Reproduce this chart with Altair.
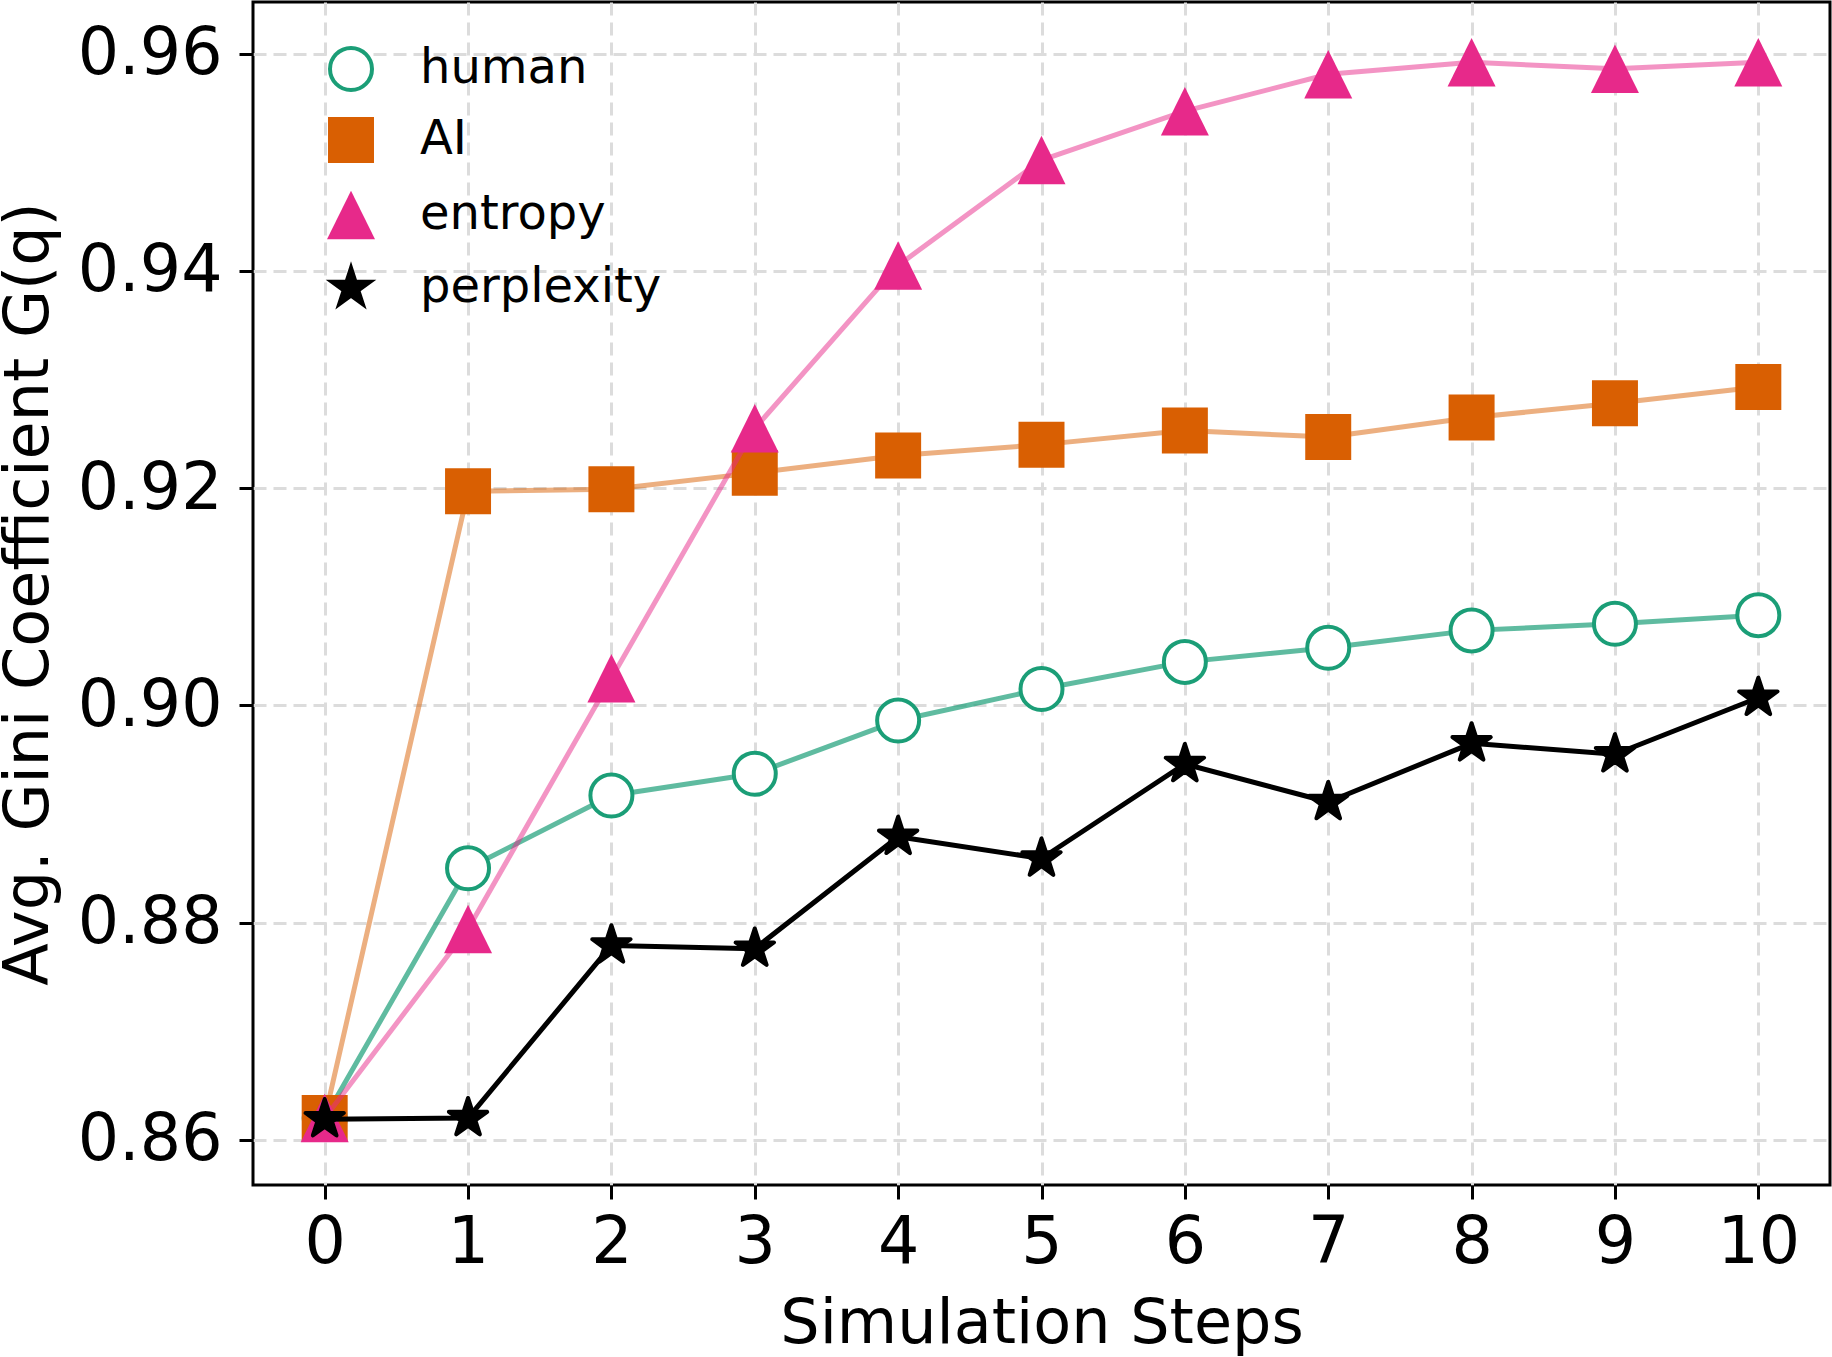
import math

import altair as alt
import pandas as pd

# Simulation steps and the average Gini coefficient per query strategy
steps = list(range(11))
series_names = ["human", "AI", "entropy", "perplexity"]

human = [0.8620, 0.8850, 0.8917, 0.8937, 0.8986, 0.9015, 0.9040, 0.9053, 0.9069, 0.9075, 0.9083]
ai = [0.8620, 0.9197, 0.9199, 0.9214, 0.9230, 0.9240, 0.9253, 0.9247, 0.9265, 0.9278, 0.9293]
entropy = [0.8620, 0.8794, 0.9025, 0.9255, 0.9405, 0.9502, 0.9547, 0.9581, 0.9592, 0.9586, 0.9592]
perplexity = [0.8619, 0.8620, 0.8779, 0.8776, 0.8879, 0.8859, 0.8946, 0.8911, 0.8965, 0.8955, 0.9007]

y_ticks = [0.86, 0.88, 0.90, 0.92, 0.94, 0.96]

series_colors = ["#1b9e77", "#d95f02", "#e7298a", "#000000"]
marker_fills = ["white", "#d95f02", "#e7298a", "#000000"]
marker_strokes = ["#1b9e77", "transparent", "transparent", "#000000"]
line_opacity = [0.7, 0.5, 0.5, 1.0]

FONT = "DejaVu Sans"


def star_path(outer, inner_ratio=0.381966, points=5):
    coords = []
    for k in range(points * 2):
        r = outer if k % 2 == 0 else outer * inner_ratio
        ang = math.pi / 2 + k * math.pi / points
        coords.append((r * math.cos(ang), -r * math.sin(ang)))
    return "M" + "L".join(f"{x:.4f},{y:.4f}" for x, y in coords) + "Z"


# Marker outlines in the unit box; one symbol size is shared by all of them
circle_shape = "M0.875,0A0.875,0.875,0,1,1,-0.875,0A0.875,0.875,0,1,1,0.875,0Z"
square_shape = "M-0.958,-0.958H0.958V0.958H-0.958Z"
triangle_shape = "M0,-1.01L1,1.01L-1,1.01Z"
star_shape = star_path(0.84)
marker_shapes = [circle_shape, square_shape, triangle_shape, star_shape]
SYMBOL_SIZE = 2304

rows = []
for name, values in zip(series_names, [human, ai, entropy, perplexity]):
    for s, v in zip(steps, values):
        rows.append({"step": s, "gini": v, "series": name})
df = pd.DataFrame(rows)

x_enc = alt.X(
    "step:Q",
    scale=alt.Scale(domain=[-0.5, 10.5], nice=False, zero=False),
    axis=alt.Axis(
        values=steps,
        format="d",
        title="Simulation Steps",
        labelPadding=12,
        titleY=157,
        titleBaseline="alphabetic",
    ),
)
y_enc = alt.Y(
    "gini:Q",
    scale=alt.Scale(domain=[0.85584, 0.96475], nice=False, zero=False),
    axis=alt.Axis(
        values=y_ticks,
        format=".2f",
        title="Avg. Gini Coefficient G(q)",
        labelPadding=17,
        titleAngle=270,
        titleX=-206,
        titleY=591.5,
        titleAlign="center",
        titleBaseline="alphabetic",
    ),
)

legend = alt.Legend(
    title=None,
    orient="none",
    legendX=72,
    legendY=41,
    padding=0,
    symbolSize=SYMBOL_SIZE,
    symbolStrokeWidth=4,
    labelFont=FONT,
    labelFontSize=48,
    labelColor="black",
    labelOffset=43,
    labelLimit=600,
    rowPadding=11,
)

shape_enc = alt.Shape(
    "series:N",
    scale=alt.Scale(domain=series_names, range=marker_shapes),
    legend=legend,
)
fill_enc = alt.Fill(
    "series:N",
    scale=alt.Scale(domain=series_names, range=marker_fills),
    legend=legend,
)
stroke_enc = alt.Stroke(
    "series:N",
    scale=alt.Scale(domain=series_names, range=marker_strokes),
    legend=legend,
)

base = alt.Chart(df)
layers = []
for name, color, opacity in zip(series_names, series_colors, line_opacity):
    subset = base.transform_filter(alt.datum.series == name)
    line = subset.mark_line(
        color=color, opacity=opacity, strokeWidth=5, strokeJoin="round"
    ).encode(x=x_enc, y=y_enc)
    points = subset.mark_point(
        filled=True, opacity=1, strokeWidth=4, strokeJoin="round", size=SYMBOL_SIZE
    ).encode(x=x_enc, y=y_enc, shape=shape_enc, fill=fill_enc, stroke=stroke_enc)
    layers += [line, points]

chart = (
    alt.layer(*layers)
    .properties(
        width=1577,
        height=1183,
        autosize=alt.AutoSizeParams(type="none"),
        padding={"left": 253, "top": 2, "right": 2, "bottom": 172},
        background="white",
    )
    .configure_view(stroke="black", strokeWidth=3)
    .configure_axis(
        grid=True,
        gridColor="#dcdcdc",
        gridDash=[13, 7],
        gridWidth=3,
        domain=False,
        tickColor="black",
        tickWidth=3,
        tickSize=14,
        labelFont=FONT,
        labelFontSize=65,
        labelColor="black",
        titleFont=FONT,
        titleFontSize=62,
        titleFontWeight="normal",
        titleColor="black",
    )
)

chart.save("out.html", embed_options={"renderer": "svg", "actions": False})
